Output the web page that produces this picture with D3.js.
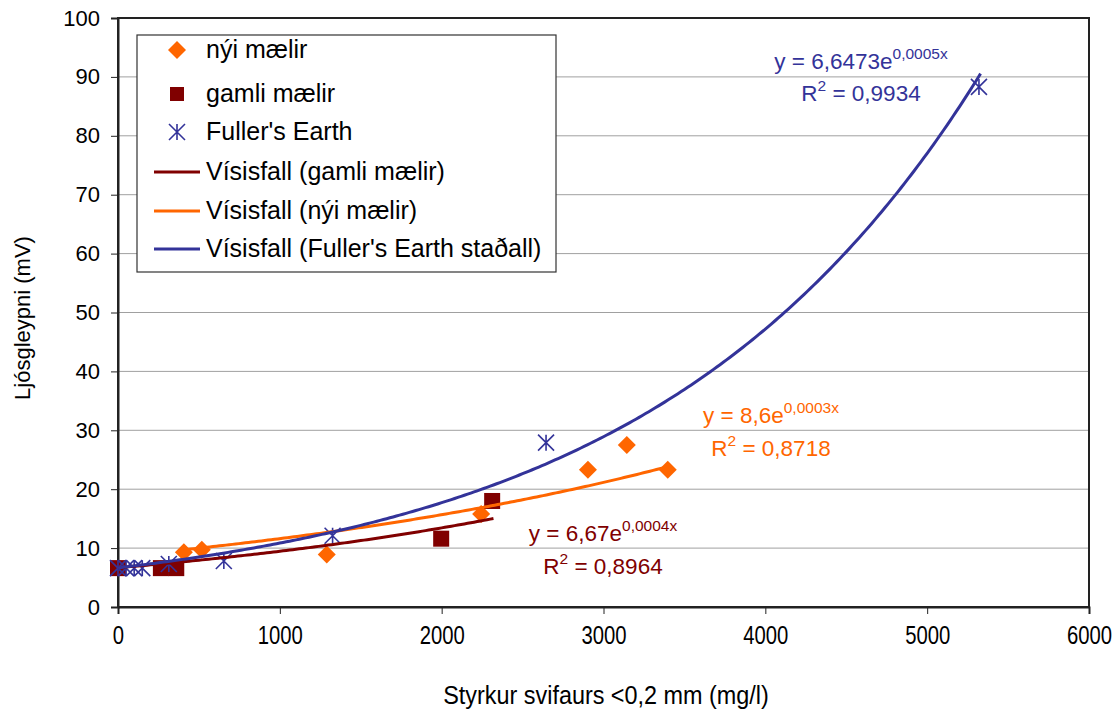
<!DOCTYPE html>
<html>
<head>
<meta charset="utf-8">
<script src="https://cdn.jsdelivr.net/npm/d3@7"></script>
<style>
  body { margin: 0; background: #fff; }
  svg text { font-family: "Liberation Sans", Arial, sans-serif; }
</style>
</head>
<body>
<div id="chart"></div>
<script>
// data
const nyiX = [407, 518, 1290, 2244, 2904, 3144, 3397];
const nyiY = [9.3, 9.7, 8.9, 15.8, 23.3, 27.5, 23.3];

const gamliX = [0, 265, 360, 1997, 2312];
const gamliY = [6.6, 6.6, 6.6, 11.6, 18.0];

const fullerX = [0, 50, 100, 150, 314, 654, 1326, 2645, 5320];
const fullerY = [6.6, 6.6, 6.6, 6.6, 7.3, 7.8, 12.1, 27.9, 88.3];

// exponential trend lines y = a*e^(k*x), drawn over [from, to]
const trendNames = ["Vísisfall (gamli mælir)", "Vísisfall (nýi mælir)", "Vísisfall (Fuller's Earth staðall)"];
const trendA = [6.67, 8.6, 6.6473];
const trendK = [0.00035, 0.0003, 0.00049];
const trendFrom = [0, 407, 0];
const trendTo = [2320, 3400, 5330];
const trendEq = [["6,67e", "0,0004x", "0,8964"], ["8,6e", "0,0003x", "0,8718"], ["6,6473e", "0,0005x", "0,9934"]];

const xTicks = [0, 1000, 2000, 3000, 4000, 5000, 6000];
const yTicks = [0, 10, 20, 30, 40, 50, 60, 70, 80, 90, 100];

const cRed = "#800000", cOrange = "#ff6600", cBlue = "#333399";
const trendColors = [cRed, cOrange, cBlue];

const W = 1120, H = 716;
const L = 118, R = 1089, T = 18, B = 607;

const svg = d3.select("#chart").append("svg").attr("width", W).attr("height", H);

const x = d3.scaleLinear().domain([0, 6000]).range([L, R]);
const y = d3.scaleLinear().domain([0, 100]).range([B, T]);

// grid
svg.append("g").selectAll("line").data(yTicks.filter(d => d > 0)).enter().append("line")
  .attr("x1", L).attr("x2", R).attr("y1", d => y(d)).attr("y2", d => y(d))
  .attr("stroke", "#a0a0a0").attr("stroke-width", 1);

// plot border
svg.append("rect").attr("x", L).attr("y", T).attr("width", R - L).attr("height", B - T)
  .attr("fill", "none").attr("stroke", "#222").attr("stroke-width", 2);

// axes
const xAxis = svg.append("g").attr("transform", `translate(0,${B})`)
  .call(d3.axisBottom(x).tickValues(xTicks).tickFormat(d3.format("d")).tickSize(7).tickPadding(12));
xAxis.select(".domain").attr("stroke", "#222").attr("stroke-width", 2);
xAxis.selectAll("text").attr("font-size", 26).attr("fill", "#000")
  .attr("transform", "scale(0.78,1)");

const yAxis = svg.append("g").attr("transform", `translate(${L},0)`)
  .call(d3.axisLeft(y).tickValues(yTicks).tickSize(7).tickPadding(11));
yAxis.select(".domain").attr("stroke", "#222").attr("stroke-width", 2);
yAxis.selectAll("text").attr("font-size", 22).attr("fill", "#000");
[xAxis, yAxis].forEach(a => a.selectAll(".tick line").attr("stroke", "#222"));

svg.append("g").attr("transform", "translate(606,704) scale(0.9,1)")
  .append("text").attr("text-anchor", "middle").attr("font-size", 26)
  .text("Styrkur svifaurs <0,2 mm (mg/l)");
svg.append("text").attr("transform", "translate(30,318) rotate(-90)")
  .attr("text-anchor", "middle").attr("font-size", 22).text("Ljósgleypni (mV)");

// marker shapes
function diamond(g, cx, cy) {
  g.append("path").attr("d", `M${cx},${cy - 9}L${cx + 9},${cy}L${cx},${cy + 9}L${cx - 9},${cy}Z`).attr("fill", cOrange);
}
function square(g, cx, cy) {
  g.append("rect").attr("x", cx - 8).attr("y", cy - 8).attr("width", 16).attr("height", 16).attr("fill", cRed);
}
function star(g, cx, cy) {
  const s = 8, w = 8;
  g.append("path")
    .attr("d", `M${cx - w},${cy - s}L${cx + w},${cy + s}M${cx + w},${cy - s}L${cx - w},${cy + s}M${cx},${cy - s}L${cx},${cy + s}`)
    .attr("stroke", cBlue).attr("stroke-width", 1.6).attr("fill", "none");
}

const marks = svg.append("g");
nyiX.forEach((d, i) => diamond(marks, x(d), y(nyiY[i])));
gamliX.forEach((d, i) => square(marks, x(d), y(gamliY[i])));
fullerX.forEach((d, i) => star(marks, x(d), y(fullerY[i])));

// trend lines
const line = d3.line().x(d => x(d[0])).y(d => y(d[1]));
trendA.forEach((a, i) => {
  const pts = d3.range(trendFrom[i], trendTo[i], 20).concat([trendTo[i]]).map(v => [v, a * Math.exp(trendK[i] * v)]);
  svg.append("path").datum(pts).attr("d", line)
    .attr("fill", "none").attr("stroke", trendColors[i]).attr("stroke-width", 3);
});

// equation labels
const eqPos = [[603, 541, 603, 574], [771, 423, 771, 456], [861, 69, 861, 101]];
trendEq.forEach((e, i) => {
  const p = eqPos[i];
  const t1 = svg.append("text").attr("x", p[0]).attr("y", p[1]).attr("text-anchor", "middle")
    .attr("font-size", 22.5).attr("fill", trendColors[i]);
  t1.append("tspan").text("y = " + e[0]);
  t1.append("tspan").attr("dy", -10).attr("font-size", 15.5).text(e[1]);
  const t2 = svg.append("text").attr("x", p[2]).attr("y", p[3]).attr("text-anchor", "middle")
    .attr("font-size", 22.5).attr("fill", trendColors[i]);
  t2.append("tspan").text("R");
  t2.append("tspan").attr("dy", -10).attr("font-size", 15.5).text("2");
  t2.append("tspan").attr("dy", 10).text(" = " + e[2]);
});

// legend
const lg = svg.append("g");
lg.append("rect").attr("x", 137).attr("y", 35).attr("width", 419).attr("height", 237)
  .attr("fill", "#fff").attr("stroke", "#333").attr("stroke-width", 1.2);
const legNames = ["nýi mælir", "gamli mælir", "Fuller's Earth"].concat(trendNames);
const legY = [50, 94, 132, 172, 211, 249];
legNames.forEach((n, i) => {
  const cy = legY[i];
  if (i === 0) diamond(lg, 177, cy);
  else if (i === 1) { lg.append("rect").attr("x", 170).attr("y", cy - 7).attr("width", 14).attr("height", 14).attr("fill", cRed); }
  else if (i === 2) star(lg, 177, cy);
  else lg.append("line").attr("x1", 154).attr("x2", 200).attr("y1", cy).attr("y2", cy)
    .attr("stroke", trendColors[i - 3]).attr("stroke-width", 3);
  lg.append("text").attr("x", 206).attr("y", cy + 8).attr("font-size", 25).text(n);
});
</script>
</body>
</html>
